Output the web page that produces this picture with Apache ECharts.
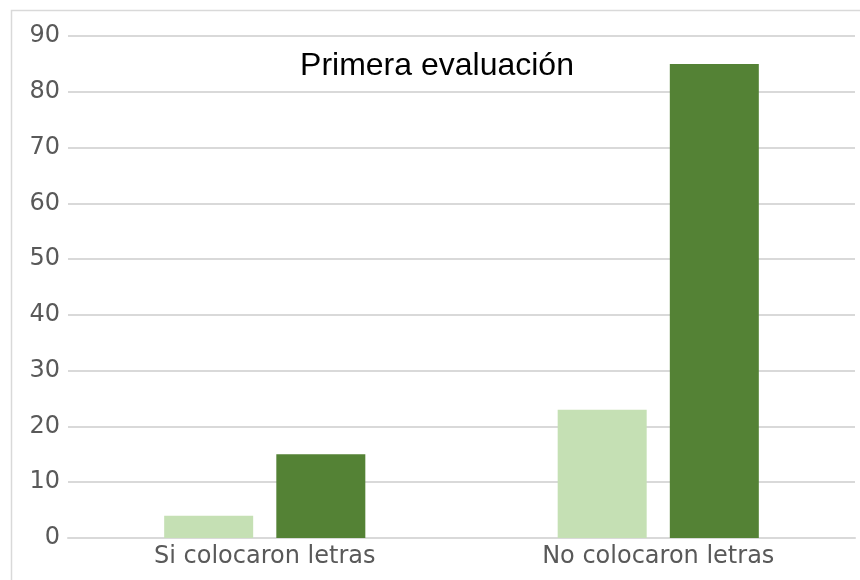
<!DOCTYPE html>
<html>
<head>
<meta charset="utf-8">
<script src="https://cdn.jsdelivr.net/npm/echarts@6/dist/echarts.min.js"></script>
<style>
  html, body { margin: 0; padding: 0; background: #fff; }
  #chart { width: 860px; height: 580px; }
</style>
</head>
<body>
<div id="chart"></div>
<script>
// datos
const categories = ["Si colocaron letras", "No colocaron letras"];
const serieClara = [4, 23];
const serieOscura = [15, 85];
const yTicks = { min: 0, max: 90, interval: 10 };

const chart = echarts.init(document.getElementById("chart"));
const option = {
  animation: false,
  title: {
    text: "Primera evaluación",
    left: 432,
    top: 45,
    textAlign: "center",
    textStyle: {
      fontFamily: "Liberation Sans",
      fontWeight: "normal",
      fontSize: 32,
      color: "#000"
    }
  },
  graphic: [
    {
      type: "rect",
      shape: { x: 11.5, y: 10.5, width: 860, height: 600 },
      style: { fill: "none", stroke: "#d9d9d9", lineWidth: 1.5 },
      z: -1
    }
  ],
  grid: { left: 68, right: 5, top: 36, bottom: 42 },
  xAxis: {
    type: "category",
    data: categories,
    axisLine: { lineStyle: { color: "#d9d9d9", width: 2 } },
    axisTick: { show: false },
    axisLabel: {
      fontFamily: "DejaVu Sans",
      fontSize: 24,
      color: "#595959",
      margin: 7
    }
  },
  yAxis: {
    type: "value",
    min: yTicks.min,
    max: yTicks.max,
    interval: yTicks.interval,
    axisLine: { show: false },
    axisTick: { show: false },
    splitLine: { lineStyle: { color: "#d9d9d9", width: 2 } },
    axisLabel: {
      fontFamily: "DejaVu Sans",
      fontSize: 24,
      color: "#595959",
      margin: 8
    }
  },
  series: [
    {
      type: "bar",
      data: serieClara,
      barWidth: 89,
      barGap: "26%",
      itemStyle: { color: "#c5e0b4" }
    },
    {
      type: "bar",
      data: serieOscura,
      barWidth: 89,
      barGap: "26%",
      itemStyle: { color: "#548235" }
    }
  ]
};
chart.setOption(option);
</script>
</body>
</html>
